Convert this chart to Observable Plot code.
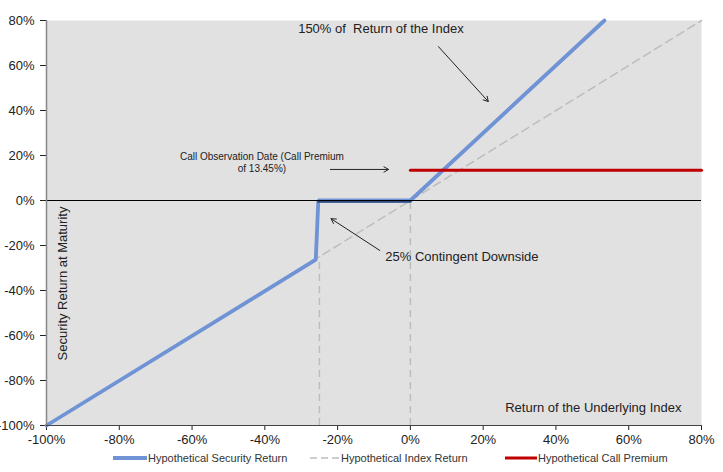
<!DOCTYPE html>
<html><head>
<meta charset="utf-8">
<script src="https://cdn.jsdelivr.net/npm/d3@7"></script>
<script src="https://cdn.jsdelivr.net/npm/@observablehq/plot@0.6"></script>
<style>
body{margin:0;background:#fff;font-family:"Liberation Sans",Arial,sans-serif;}
#legend{position:relative;height:20px;font-size:11px;color:#333;width:723px;}
.item{position:absolute;top:0;height:16px;display:flex;align-items:center;gap:1px;white-space:nowrap;}
svg text{white-space:pre;}
</style></head><body>
<div id="chart"></div>
<div id="legend"></div>
<script>
// Series values (percent)
const securityX = [-100, -26, -25.3, 0, 53.33];
const securityY = [-100, -26.3, 0, 0, 80];
const indexX = [-100, 80];
const indexY = [-100, 80];
const premiumX = [0, 80];
const premiumY = [13.45, 13.45];
const dropX = [-25, 0];
const dropY = [-25, 0];
const tickValues = [-100, -80, -60, -40, -20, 0, 20, 40, 60, 80];
const seriesNames = ["Hypothetical Security Return", "Hypothetical Index Return", "Hypothetical Call Premium"];
const seriesColors = ["#6F93D4", "#BDBDBD", "#C00000"];

const annoTexts = ["150% of  Return of the Index", "Call Observation Date (Call Premium\nof 13.45%)", "25% Contingent Downside"];
const annoX = [-8.1, -40.8, -6.9];
const annoY = [76.4, 16.9, -25.2];
const arrowX1 = [7.7, -22, -8.4];
const arrowY1 = [68.4, 13.8, -22.2];
const arrowX2 = [21.4, -6, -21.8];
const arrowY2 = [44, 13.8, -8.1];
const axisLabelX = ["Return of the Underlying Index"];
const axisLabelY = [{t: "Security Return at Maturity", x: -95.6, y: -36.9}];

const security = securityX.map((x, i) => ({x, y: securityY[i]}));
const flat = security.filter(d => d.y === 0);
const index = indexX.map((x, i) => ({x, y: indexY[i]}));
const premium = premiumX.map((x, i) => ({x, y: premiumY[i]}));
const drops = dropX.map((x, i) => ({x, y: dropY[i]}));
const annos = annoTexts.map((t, i) => ({t, x: annoX[i], y: annoY[i]}));
const arrows = arrowX1.map((x1, i) => ({x1, y1: arrowY1[i], x2: arrowX2[i], y2: arrowY2[i]}));
const pct = d => d + "%";

const chart = Plot.plot({
  width: 723,
  height: 450,
  marginLeft: 46,
  marginRight: 22,
  marginTop: 20,
  marginBottom: 25,
  style: {fontFamily: "'Liberation Sans', Arial, sans-serif", fontSize: "13px", color: "#222", background: "#fff"},
  x: {domain: [-100, 80], ticks: tickValues, tickFormat: pct, label: null, tickSize: 5, tickPadding: 4},
  y: {domain: [-100, 80], ticks: tickValues, tickFormat: pct, label: null, tickSize: 6, tickPadding: 6},
  marks: [
    Plot.frame({fill: "#E1E1E1", stroke: null}),
    Plot.ruleX(drops, {x: "x", y1: -100, y2: "y", stroke: "#BDBDBD", strokeWidth: 1.5, strokeDasharray: "7,5"}),
    Plot.line(index, {x: "x", y: "y", stroke: seriesColors[1], strokeWidth: 1.5, strokeDasharray: "8,5"}),
    Plot.line(security, {x: "x", y: "y", stroke: seriesColors[0], strokeWidth: 3.8, strokeLinejoin: "miter"}),
    Plot.line(flat, {x: "x", y: "y", stroke: "#2D4C86", strokeWidth: 2.5, dy: 1}),
    Plot.ruleY([0], {stroke: "#000", strokeWidth: 1.2}),
    Plot.line(premium, {x: "x", y: "y", stroke: seriesColors[2], strokeWidth: 3}),
    Plot.ruleX([-100], {stroke: "#888", strokeWidth: 1.5}),
    Plot.ruleY([-100], {stroke: "#444", strokeWidth: 1.2}),
    Plot.arrow(arrows, {x1: "x1", y1: "y1", x2: "x2", y2: "y2", stroke: "#222", strokeWidth: 1, headLength: 8, bend: 0}),
    Plot.text([annos[0]], {x: "x", y: "y", text: "t", fontSize: 13, fill: "#222"}),
    Plot.text([annos[1]], {x: "x", y: "y", text: "t", fontSize: 10, lineHeight: 1.2, fill: "#222"}),
    Plot.text([annos[2]], {x: "x", y: "y", text: "t", fontSize: 13, textAnchor: "start", fill: "#222"}),
    Plot.text(axisLabelX, {frameAnchor: "bottom-right", dx: -20, dy: -14, fontSize: 13, fill: "#222"}),
    Plot.text(axisLabelY, {x: "x", y: "y", text: "t", rotate: -90, fontSize: 13, fill: "#222"})
  ]
});
document.getElementById("chart").appendChild(chart);

// Legend
const legend = document.getElementById("legend");
const lefts = [113, 310, 505];
const swatchStyles = [
  `<line x1="0" y1="8" x2="34" y2="8" stroke="${seriesColors[0]}" stroke-width="4"/>`,
  `<line x1="0" y1="8" x2="30" y2="8" stroke="${seriesColors[1]}" stroke-width="1.5" stroke-dasharray="7,4"/>`,
  `<line x1="0" y1="8" x2="32" y2="8" stroke="${seriesColors[2]}" stroke-width="3"/>`
];
const swW = [34, 30, 32];
seriesNames.forEach((name, i) => {
  const div = document.createElement("div");
  div.className = "item";
  div.style.left = lefts[i] + "px";
  div.innerHTML = `<svg width="${swW[i]}" height="16">${swatchStyles[i]}</svg><span>${name}</span>`;
  legend.appendChild(div);
});
</script>
</body></html>
